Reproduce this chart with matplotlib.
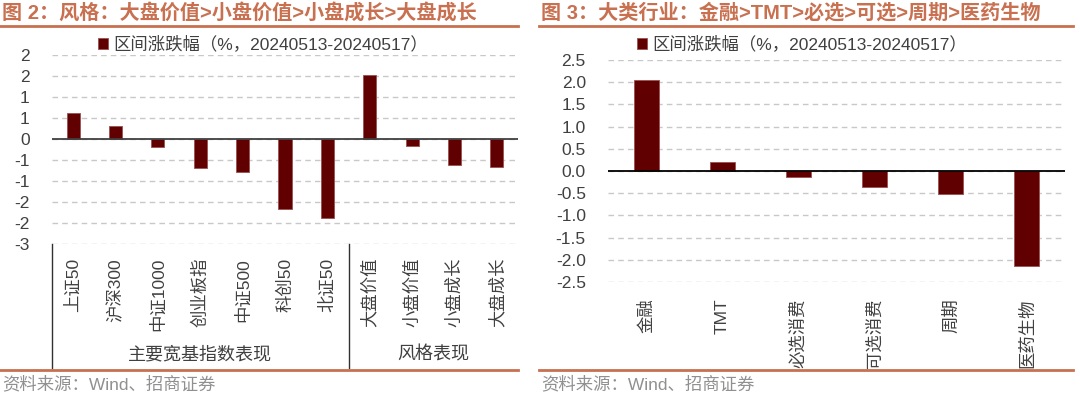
import matplotlib.pyplot as plt
from matplotlib.lines import Line2D

plt.rcParams['font.family'] = ['Liberation Sans', 'Noto Sans CJK SC', 'DejaVu Sans']

# left chart: broad indices + style
left_cats = ['上证50', '沪深300', '中证1000', '创业板指', '中证500', '科创50', '北证50',
             '大盘价值', '小盘价值', '小盘成长', '大盘成长']
left_vals = [0.62, 0.32, -0.19, -0.69, -0.79, -1.66, -1.88, 1.53, -0.16, -0.63, -0.67]
left_ticks = [2.0, 1.5, 1.0, 0.5, 0.0, -0.5, -1.0, -1.5, -2.0, -2.5]
left_ticklabels = ['2', '2', '1', '1', '0', '-1', '-1', '-2', '-2', '-3']
left_groups = ['主要宽基指数表现', '风格表现']
left_group_sizes = [7, 4]

# right chart: sectors
right_cats = ['金融', 'TMT', '必选消费', '可选消费', '周期', '医药生物']
right_vals = [2.04, 0.21, -0.14, -0.35, -0.52, -2.15]
right_ticks = [2.5, 2.0, 1.5, 1.0, 0.5, 0.0, -0.5, -1.0, -1.5, -2.0, -2.5]

legend_label = '区间涨跌幅（%，20240513-20240517）'
title_left = '图 2：风格：大盘价值>小盘价值>小盘成长>大盘成长'
title_right = '图 3：大类行业：金融>TMT>必选>可选>周期>医药生物'
source = '资料来源：Wind、招商证券'

W, H = 1080, 397
BAR = '#600000'
ACCENT = '#C8704F'
TXT = '#404040'

fig = plt.figure(figsize=(W / 100, H / 100), dpi=100)


def px_axes(x0, y0, x1, y1):
    # pixel box (top-left origin) -> figure axes
    return fig.add_axes([x0 / W, 1 - y1 / H, (x1 - x0) / W, (y1 - y0) / H])


def style(ax, ticks, labels, zero_color):
    ax.set_yticks(ticks)
    ax.set_yticklabels(labels)
    ax.set_ylim(min(ticks), max(ticks))
    ax.tick_params(axis='y', length=0, pad=16, labelsize=12.5, labelcolor=TXT)
    ax.tick_params(axis='x', length=0, labelsize=12.5, labelcolor=TXT)
    for s in ax.spines.values():
        s.set_visible(False)
    ax.grid(axis='y', color='#C8C8C8', linestyle=(0, (4, 3)), linewidth=1)
    ax.set_axisbelow(True)
    ax.axhline(0, color=zero_color, linewidth=1.3, zorder=3)


# ---- left panel
axl = px_axes(52, 55, 518, 244)
xs = range(len(left_cats))
axl.bar(xs, left_vals, width=0.31, color=BAR, edgecolor='#9A5050', linewidth=0.6,
        zorder=2, label=legend_label)
axl.set_xlim(-0.5, len(left_cats) - 0.5)
style(axl, left_ticks, left_ticklabels, '#404040')
axl.set_xticks(list(xs))
axl.set_xticklabels(left_cats, rotation=90, va='top')
axl.tick_params(axis='x', pad=10)

# group separators and labels
pos = -0.5
bottom = -(368 - 244) / (244 - 55)
axl.add_line(Line2D([pos, pos], [0, bottom], transform=axl.get_xaxis_transform(),
                    color='#303030', linewidth=1, clip_on=False))
for name, n in zip(left_groups, left_group_sizes):
    axl.text(pos + n / 2, -(355 - 244) / (244 - 55), name, transform=axl.get_xaxis_transform(),
             ha='center', va='center', fontsize=13, color=TXT)
    pos += n
    if pos < len(left_cats) - 0.5:
        axl.add_line(Line2D([pos, pos], [0, bottom], transform=axl.get_xaxis_transform(),
                            color='#303030', linewidth=1, clip_on=False))

# ---- right panel
axr = px_axes(608, 60, 1065, 282)
xs = range(len(right_cats))
axr.bar(xs, right_vals, width=0.33, color=BAR, edgecolor='#9A5050', linewidth=0.6,
        zorder=2, label=legend_label)
axr.set_xlim(-0.5, len(right_cats) - 0.5)
style(axr, right_ticks, [f'{t:.1f}' for t in right_ticks], '#000000')
axr.set_xticks(list(xs))
axr.set_xticklabels(right_cats, rotation=90, va='top')
axr.tick_params(axis='x', pad=12)

# ---- legends
for ax, x in [(axl, 98), (axr, 637)]:
    h, l = ax.get_legend_handles_labels()
    fig.legend(h, l, loc='center left', bbox_to_anchor=(x / W, 1 - 44 / H), frameon=False,
               fontsize=12.5, handlelength=0.6, handleheight=0.6, handletextpad=0.3,
               labelcolor=TXT, borderaxespad=0, borderpad=0)

# ---- titles, rules, source
for x0, x1, title in [(2, 518, title_left), (541, 1073, title_right)]:
    fig.text(x0 / W, 1 - 13 / H, title, ha='left', va='center', fontsize=14.5,
             fontweight='bold', color=ACCENT)
    fig.add_artist(Line2D([(x0 - 2) / W, x1 / W], [1 - 26 / H] * 2, color=ACCENT, linewidth=2))
    fig.add_artist(Line2D([(x0 - 2) / W, x1 / W], [1 - 370 / H] * 2, color=ACCENT, linewidth=2))
    fig.text(x0 / W, 1 - 384 / H, source, ha='left', va='center', fontsize=12.5, color='#909090')

fig.savefig('out.png', dpi=100)
